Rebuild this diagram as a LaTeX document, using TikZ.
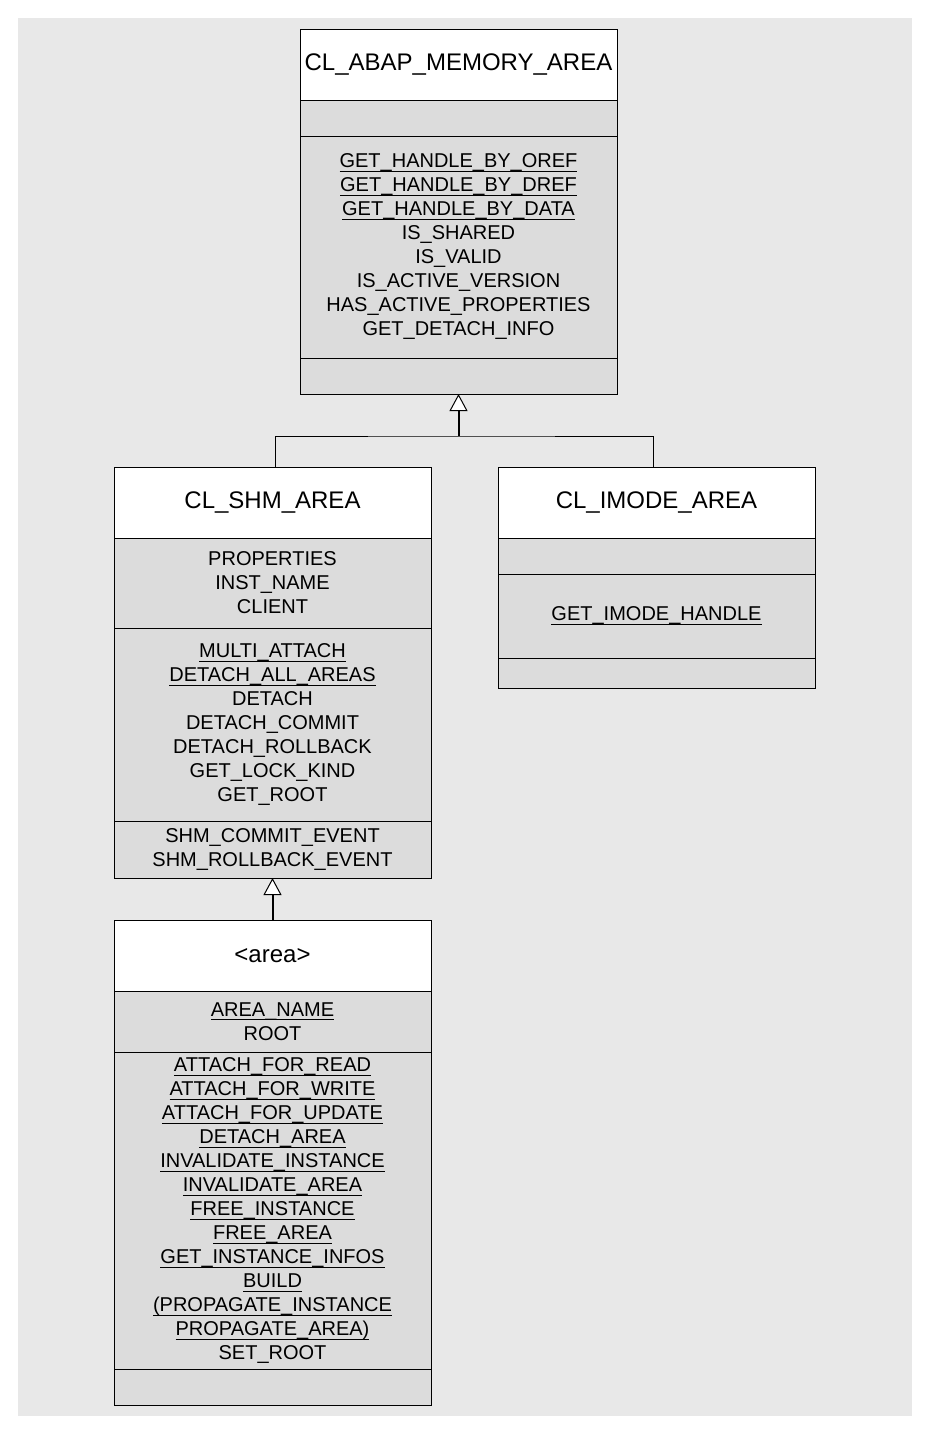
\documentclass[tikz,border=0pt]{standalone}
\usepackage{fontspec}
\setmainfont{Liberation Sans}
\usetikzlibrary{arrows.meta,positioning}
\definecolor{umlbg}{HTML}{E8E8E8}
\definecolor{umlpart}{HTML}{DCDCDC}
\newcommand{\ulop}[1]{\setbox0\hbox{#1}\rlap{\rule[-4pt]{\wd0}{1pt}}\box0}

\begin{document}
\begin{tikzpicture}[x=1pt, y=-1pt,
	head/.style={draw, fill=white, line width=1pt, outer sep=0pt, minimum width=317pt, minimum height=71pt, inner sep=0pt, font=\fontsize{24}{28}\selectfont},
	part/.style={draw, fill=umlpart, line width=1pt, outer sep=0pt, minimum width=317pt, inner sep=0pt, align=center, font=\fontsize{20}{24}\selectfont},
	gen/.style={line width=2pt, -{Triangle[length=17pt, width=18pt, fill=white, line width=1pt]}},
	link/.style={line width=1pt}]
	\useasboundingbox (0,0) rectangle (930,1440);
	\fill[umlbg] (18,18) rectangle (912,1416);

	\node[head] (mem) at (458.5,64.5) {CL\_ABAP\_MEMORY\_AREA};
	\node[part, minimum height=36pt, below=0pt of mem] (memattr) {};
	\node[part, minimum height=222pt, below=0pt of memattr] (memmeth) {\ulop{GET\_HANDLE\_BY\_OREF}\\\ulop{GET\_HANDLE\_BY\_DREF}\\\ulop{GET\_HANDLE\_BY\_DATA}\\IS\_SHARED\\IS\_VALID\\IS\_ACTIVE\_VERSION\\HAS\_ACTIVE\_PROPERTIES\\GET\_DETACH\_INFO};
	\node[part, minimum height=36pt, below=0pt of memmeth] (memev) {};

	\node[head] (shm) at (272.5,502.5) {CL\_SHM\_AREA};
	\node[part, minimum height=90pt, below=0pt of shm] (shmattr) {PROPERTIES\\INST\_NAME\\CLIENT};
	\node[part, minimum height=193pt, below=0pt of shmattr] (shmmeth) {\ulop{MULTI\_ATTACH}\\\ulop{DETACH\_ALL\_AREAS}\\DETACH\\DETACH\_COMMIT\\DETACH\_ROLLBACK\\GET\_LOCK\_KIND\\GET\_ROOT};
	\node[part, minimum height=57pt, below=0pt of shmmeth] (shmev) {SHM\_COMMIT\_EVENT\\SHM\_ROLLBACK\_EVENT};

	\node[head] (imode) at (656.5,502.5) {CL\_IMODE\_AREA};
	\node[part, minimum height=36pt, below=0pt of imode] (imodeattr) {};
	\node[part, minimum height=84pt, below=0pt of imodeattr] (imodemeth) {\ulop{GET\_IMODE\_HANDLE}};
	\node[part, minimum height=30pt, below=0pt of imodemeth] (imodeev) {};

	\node[head] (area) at (272.5,955.5) {<area>};
	\node[part, minimum height=61pt, below=0pt of area] (areaattr) {\ulop{AREA\_NAME}\\ROOT};
	\node[part, minimum height=317pt, below=0pt of areaattr] (areameth) {\ulop{ATTACH\_FOR\_READ}\\\ulop{ATTACH\_FOR\_WRITE}\\\ulop{ATTACH\_FOR\_UPDATE}\\\ulop{DETACH\_AREA}\\\ulop{INVALIDATE\_INSTANCE}\\\ulop{INVALIDATE\_AREA}\\\ulop{FREE\_INSTANCE}\\\ulop{FREE\_AREA}\\\ulop{GET\_INSTANCE\_INFOS}\\\ulop{BUILD}\\\ulop{(PROPAGATE\_INSTANCE}\\\ulop{PROPAGATE\_AREA)}\\SET\_ROOT};
	\node[part, minimum height=36pt, below=0pt of areameth] (areaev) {};

	\coordinate (fork) at (458.5,436);
	\draw[link] ([xshift=2.5pt]shm.north) |- (fork) -| ([xshift=-3pt]imode.north);
	\draw[gen] (fork) -- (memev.south);
	\draw[gen] (area.north) -- (shmev.south);
\end{tikzpicture}
\end{document}
